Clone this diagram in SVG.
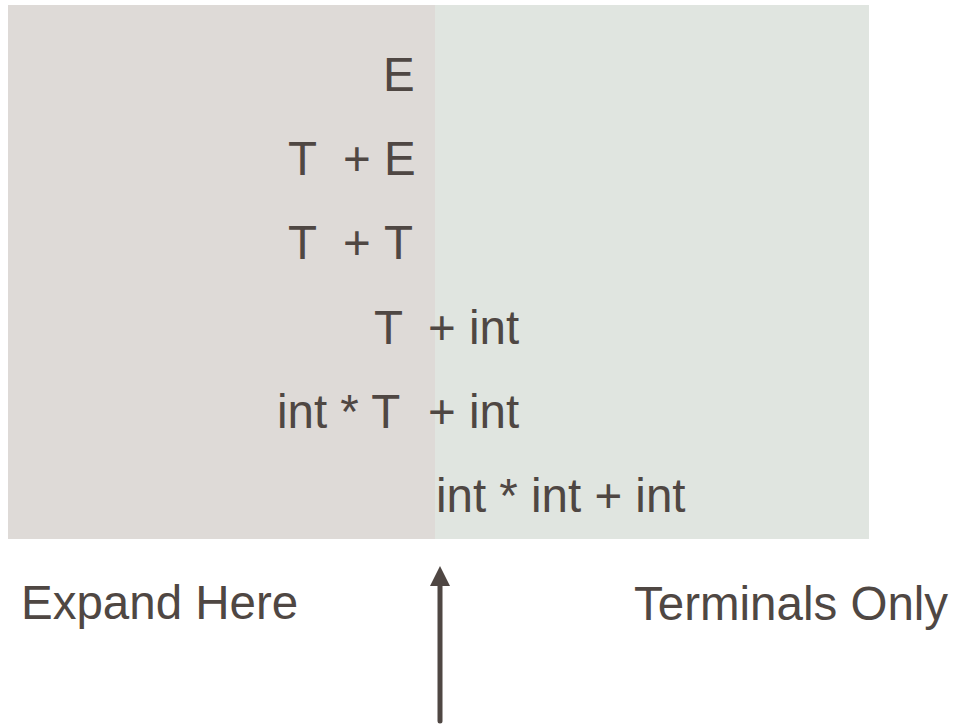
<svg xmlns="http://www.w3.org/2000/svg" width="954" height="725" viewBox="0 0 954 725">
  <style>
    .t { font-family: "Liberation Sans", Arial, Helvetica, sans-serif; font-size: 47.5px; fill: #4F4743; }
  </style>
  <defs>
    <!-- arrowhead drawn along +x; its base sits on the line end -->
    <marker id="head" viewBox="0 0 20 20" refX="1" refY="10" markerWidth="20" markerHeight="20" markerUnits="userSpaceOnUse" orient="auto">
      <path d="M0,0 L20,10 L0,20 Z" fill="#4F4743"/>
    </marker>
  </defs>
  <rect width="954" height="725" fill="#FFFFFF"/>

  <!-- two panels: nonterminal side and terminal side -->
  <g id="panel-expand">
    <rect x="8" y="5" width="427" height="534" fill="#DEDAD7"/>
  </g>
  <g id="panel-terminals">
    <rect x="435" y="5" width="434" height="534" fill="#E0E5E0"/>
  </g>

  <!-- derivation steps -->
  <g id="step1"><text class="t" x="383" y="90.5">E</text></g>
  <g id="step2">
    <text class="t" x="288" y="174.5">T</text>
    <text class="t" x="343" y="174.5">+</text>
    <text class="t" x="384" y="174.5">E</text>
  </g>
  <g id="step3">
    <text class="t" x="288" y="259">T</text>
    <text class="t" x="343" y="259">+</text>
    <text class="t" x="384" y="259">T</text>
  </g>
  <g id="step4">
    <text class="t" x="374" y="343.5">T</text>
    <text class="t" x="428" y="343.5">+ int</text>
  </g>
  <g id="step5">
    <text class="t" x="277" y="428">int * T</text>
    <text class="t" x="428" y="428">+ int</text>
  </g>
  <g id="step6">
    <text class="t" x="436" y="512">int * int + int</text>
  </g>

  <!-- captions -->
  <g id="label-expand"><text class="t" x="21" y="619">Expand Here</text></g>
  <g id="label-terminals"><text class="t" x="634" y="620">Terminals Only</text></g>

  <!-- boundary pointer -->
  <g id="connectors">
    <line x1="440" y1="721" x2="440" y2="585" stroke="#4F4743" stroke-width="5" stroke-linecap="round" marker-end="url(#head)"/>
  </g>
</svg>
